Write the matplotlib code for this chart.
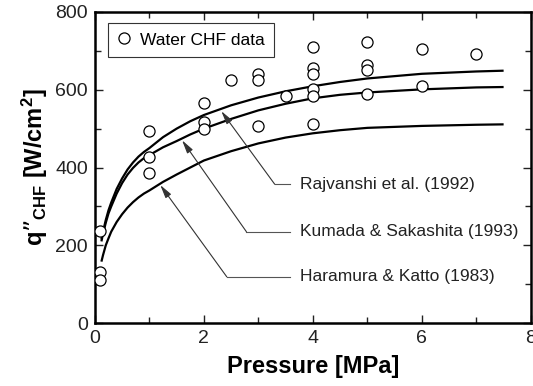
import numpy as np
import matplotlib
matplotlib.use("Agg")
import matplotlib.pyplot as plt

plt.rcParams["font.family"] = ["Liberation Sans", "DejaVu Sans"]
plt.rcParams["mathtext.default"] = "regular"

# Dados experimentais (água, CHF)
data_p = [0.1, 0.1, 0.1,
          1.0, 1.0, 1.0,
          2.0, 2.0, 2.0, 2.5,
          3.0, 3.0, 3.0, 3.5,
          4.0, 4.0, 4.0, 4.0, 4.0, 4.0,
          5.0, 5.0, 5.0, 5.0,
          6.0, 6.0, 7.0]
data_q = [237, 132, 110,
          494, 427, 386,
          565, 517, 500, 626,
          640, 625, 506, 584,
          710, 655, 640, 601, 584, 512,
          724, 663, 650, 590,
          705, 609, 691]

# Correlações
curve_p = [0.12, 0.15, 0.2, 0.25, 0.3, 0.4, 0.5, 0.6, 0.7, 0.8, 0.9, 1.0, 1.25, 1.5,
           1.75, 2.0, 2.5, 3.0, 3.5, 4.0, 4.5, 5.0, 6.0, 7.0, 7.5]
rajvanshi = [215, 235, 265, 290, 310, 345, 372, 395, 413, 428, 440, 450, 478, 500,
             519, 535, 560, 580, 596, 609, 620, 629, 641, 647, 649]
kumada = [210, 230, 258, 282, 300, 333, 360, 382, 399, 413, 424, 432, 452, 468,
          485, 500, 525, 547, 564, 578, 587, 593, 601, 606, 607]
haramura = [158, 175, 200, 218, 235, 260, 280, 297, 311, 323, 333, 341, 363, 382,
            400, 418, 442, 462, 477, 488, 496, 502, 507, 510, 511]

labels = ["Rajvanshi et al. (1992)", "Kumada & Sakashita (1993)", "Haramura & Katto (1983)"]
arrow_tips = [(2.32, 545), (1.6, 470), (1.2, 355)]
corners = [(3.30, 357), (2.78, 235), (2.42, 119)]

fig = plt.figure(figsize=(5.33, 3.86), dpi=100)
ax = fig.add_axes([0.178, 0.163, 0.818, 0.806])

for q in [rajvanshi, kumada, haramura]:
    ax.plot(curve_p, q, color="black", lw=1.6, solid_capstyle="butt",
            solid_joinstyle="round")

ax.plot(data_p, data_q, "o", mfc="white", mec="black", ms=8, mew=0.9,
        label="Water CHF data", zorder=5)

# Setas e rótulos das correlações
for lab, tip, corner in zip(labels, arrow_tips, corners):
    ax.annotate("", xy=tip, xytext=corner,
                arrowprops=dict(arrowstyle="-|>,head_length=0.8,head_width=0.2",
                                color="#333333", lw=0.8, shrinkA=0, shrinkB=0))
    ax.plot([corner[0], 3.58], [corner[1], corner[1]], color="#555555", lw=0.8)
    ax.text(3.76, corner[1], lab, fontsize=12.5, va="center", ha="left", color="#222222")

ax.set_xlim(0, 8)
ax.set_ylim(0, 800)
ax.set_xticks([0, 2, 4, 6, 8])
ax.set_xticks([1, 3, 5, 7], minor=True)
ax.set_yticks([0, 200, 400, 600, 800])
ax.set_yticks([100, 300, 500, 700], minor=True)
ax.tick_params(which="both", direction="in", top=True, right=True, width=1.0,
               labelsize=14, colors="#222222", pad=5)
ax.tick_params(which="major", length=6)
ax.tick_params(which="minor", length=4)
for s in ax.spines.values():
    s.set_linewidth(1.8)

ax.set_xlabel("Pressure [MPa]", fontsize=17, fontweight="bold", labelpad=6)
ax.set_ylabel("q\u201d$_{CHF}$ [W/cm$^{2}$]", fontsize=17, fontweight="bold", labelpad=4)

leg = ax.legend(loc="upper left", bbox_to_anchor=(0.03, 0.965), borderaxespad=0,
                fancybox=False, edgecolor="#333333", fontsize=12.5,
                handlelength=0.8, handletextpad=0.5, borderpad=0.55, framealpha=1)
leg.get_frame().set_linewidth(0.8)

fig.savefig("out.png", dpi=100)
